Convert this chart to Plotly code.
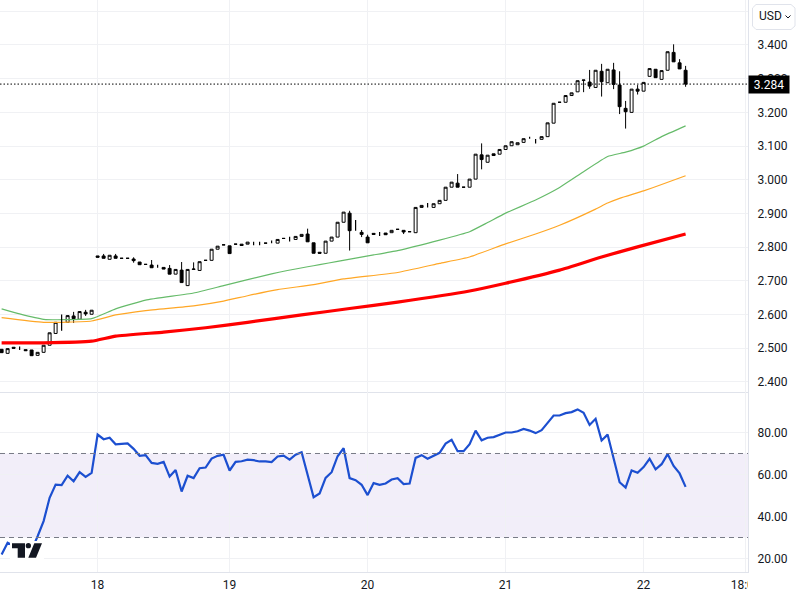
import plotly.graph_objects as go

# hourly bars, None open/close = bar that only shows a wick
bar_open = [2.497,2.485,2.503,None,2.496,2.495,2.479,2.488,2.509,2.544,None,2.577,2.596,2.586,2.607,2.601,
    2.774,2.774,2.764,2.774,2.767,2.767,2.765,2.756,2.749,2.747,None,2.740,2.737,2.720,2.732,2.686,2.734,2.731,2.761,2.761,2.794,2.807,
    2.804,2.809,2.809,2.809,None,None,2.812,None,2.812,2.826,None,2.823,2.832,2.839,2.813,2.785,2.782,2.818,2.830,2.874,2.901,None,2.844,
    2.830,2.841,None,2.842,2.843,2.853,2.850,2.846,2.843,2.918,None,2.918,2.929,2.939,2.978,2.990,2.978,2.978,3.002,3.074,3.052,3.077,3.076,
    3.090,3.101,3.104,3.111,None,None,3.120,3.128,3.168,3.230,3.230,3.250,3.261,3.295,3.290,3.274,3.322,3.288,3.326,3.281,3.212,3.200,3.269,
    3.263,3.307,3.328,3.298,3.325,3.378,3.347,3.325]
bar_high = [2.497,2.499,2.503,2.505,2.496,2.495,2.488,2.509,2.546,2.577,2.600,2.597,2.608,2.609,2.614,2.613,
    2.774,2.780,2.776,2.780,2.767,2.767,2.770,2.756,2.749,2.762,2.748,2.740,2.747,2.734,2.756,2.734,2.755,2.757,2.761,2.794,2.803,2.807,
    2.804,2.809,2.809,2.815,2.816,2.816,2.812,2.820,2.823,2.826,2.831,2.832,2.838,2.855,2.813,2.785,2.818,2.830,2.874,2.904,2.908,2.881,2.851,
    2.837,2.841,2.845,2.842,2.850,2.853,2.850,2.846,2.918,2.924,2.931,2.929,2.939,2.978,2.993,3.017,2.978,3.002,3.076,3.108,3.073,3.077,3.090,
    3.101,3.113,3.110,3.122,3.128,3.121,3.128,3.169,3.227,3.230,3.250,3.258,3.294,3.296,3.326,3.325,3.344,3.328,3.347,3.322,3.234,3.269,3.281,
    3.289,3.330,3.328,3.324,3.380,3.402,3.358,3.338]
bar_low = [2.487,2.485,2.500,2.495,2.493,2.478,2.479,2.488,2.509,2.544,2.552,2.577,2.575,2.586,2.596,2.601,
    2.770,2.767,2.764,2.767,2.767,2.767,2.754,2.748,2.749,2.739,2.739,2.735,2.720,2.720,2.695,2.686,2.734,2.731,2.761,2.761,2.794,2.807,
    2.781,2.809,2.805,2.809,2.806,2.806,2.812,2.812,2.812,2.826,2.817,2.823,2.832,2.816,2.782,2.782,2.782,2.818,2.830,2.874,2.790,2.849,2.830,
    2.813,2.838,2.833,2.837,2.843,2.853,2.839,2.846,2.843,2.918,2.918,2.918,2.929,2.939,2.978,2.978,2.978,2.978,3.002,3.031,3.052,3.072,3.076,
    3.090,3.101,3.104,3.111,3.122,3.108,3.120,3.128,3.168,3.230,3.230,3.250,3.261,3.260,3.270,3.274,3.247,3.288,3.269,3.195,3.152,3.200,3.253,
    3.263,3.307,3.303,3.298,3.325,3.350,3.329,3.276]
bar_close = [2.487,2.499,2.500,None,2.493,2.478,2.488,2.509,2.546,2.577,None,2.597,2.588,2.609,2.602,2.613,
    2.770,2.767,2.776,2.767,2.767,2.767,2.760,2.748,2.749,2.739,None,2.735,2.720,2.734,2.695,2.734,2.735,2.757,2.761,2.794,2.803,2.807,
    2.781,2.809,2.805,2.815,None,None,2.812,None,2.823,2.826,None,2.832,2.838,2.816,2.782,2.782,2.818,2.830,2.874,2.904,2.849,None,2.838,
    2.813,2.838,None,2.837,2.850,2.853,2.845,2.846,2.918,2.924,None,2.929,2.939,2.978,2.993,2.978,2.978,3.002,3.076,3.060,3.073,3.072,3.090,
    3.101,3.113,3.110,3.122,None,None,3.128,3.169,3.227,3.230,3.250,3.258,3.294,3.296,3.278,3.325,3.291,3.328,3.283,3.217,3.202,3.269,3.263,
    3.289,3.330,3.303,3.324,3.380,3.350,3.329,3.284]

# moving averages, read at the bends
green_idx = [0,3,7,11,15,19,24,32,37,45,51,53,56,62,66,73,78,81,84,89,93,97,101,104,107,110,114]
green_val = [2.617,2.602,2.586,2.585,2.588,2.617,2.643,2.664,2.686,2.721,2.742,2.748,2.758,2.777,2.790,2.821,2.846,2.873,2.901,2.940,2.977,3.024,3.069,3.082,3.100,3.128,3.160]
orange_idx = [0,7,15,19,24,32,37,41,46,52,57,66,73,78,84,89,93,99,101,103,107,110,114]
orange_val = [2.591,2.577,2.581,2.599,2.612,2.626,2.640,2.656,2.674,2.689,2.706,2.725,2.752,2.771,2.810,2.839,2.865,2.913,2.931,2.945,2.967,2.986,3.012]
red_idx = [0,7,15,19,27,34,41,50,58,66,78,84,93,100,106,114]
red_val = [2.516,2.516,2.521,2.536,2.548,2.561,2.577,2.599,2.618,2.637,2.670,2.693,2.732,2.771,2.801,2.839]

rsi = [21.9,27.5,26,24,25,24,30.6,37.8,48.9,55.2,54.9,59.4,56.8,61.1,58.9,60.8,79.0,76.8,77.5,74.4,74.6,74.8,72.2,68.9,69.2,65.5,65.1,66.0,59.0,62.1,
    51.9,59.4,58.3,63.0,63.3,67.6,68.9,69.4,61.9,66.0,66.3,67.1,66.8,66.2,66.2,65.9,68.6,69.0,67.1,69.4,70.6,60.0,49.2,51.0,58.4,61.1,68.7,72.5,58.3,57.3,
    55.1,50.2,55.9,55.1,55.7,57.6,58.2,55.4,55.7,67.9,69.2,67.5,69.0,70.3,74.7,76.5,71.1,71.1,74.4,80.9,76.3,77.5,77.8,79.0,80.0,80.0,80.6,81.7,80.9,79.7,
    81.1,84.6,88.1,88.1,89.2,89.7,91.0,89.4,83.6,86.5,76.2,79.0,67.9,56.3,53.8,61.9,60.8,63.5,67.5,62.5,64.9,69.7,64.1,60.5,54.1]

day_idx = [16,38,61,84,107,124]
day_labels = ['18','19','20','21','22','18:00']
price_ticks = [2.4,2.5,2.6,2.7,2.8,2.9,3.0,3.1,3.2,3.3,3.4,3.5]
price_labels = ['2.400','2.500','2.600','2.700','2.800','2.900','3.000','3.100','3.200','3.300','3.400','']
rsi_ticks = [20,40,60,80]
last_price = 3.284

W, H = 800, 600
PANE_R = 748
GRID = '#f0f1f4'
BORDER = '#e0e3eb'
FONT = 'Roboto'
bars = list(range(len(bar_open)))

def px(x, y):
    return f'{x / W:.5f},{1 - y / H:.5f}'

def path(points, close=True):
    return 'M' + ' L'.join(px(x, y) for x, y in points) + (' Z' if close else '')

fig = go.Figure()

for idx, val, color, width in [(red_idx, red_val, '#ff0000', 3.2),
                               (orange_idx, orange_val, '#ffa726', 1.2),
                               (green_idx, green_val, '#66bb6a', 1.2)]:
    fig.add_trace(go.Scatter(x=idx, y=val, mode='lines', line=dict(color=color, width=width, shape='spline', smoothing=0.4), showlegend=False, hoverinfo='skip'))

# wick only bars
wick_x, wick_y = [], []
for i in bars:
    if bar_open[i] is None:
        wick_x += [i, i, None]
        wick_y += [bar_low[i], bar_high[i], None]
fig.add_trace(go.Scatter(x=wick_x, y=wick_y, mode='lines', line=dict(color='black', width=1.2), showlegend=False, hoverinfo='skip'))

fig.add_trace(go.Candlestick(x=bars, open=bar_open, high=bar_high, low=bar_low, close=bar_close, showlegend=False,
    whiskerwidth=0,
    increasing=dict(line=dict(color='black', width=1), fillcolor='white'),
    decreasing=dict(line=dict(color='black', width=1), fillcolor='black')))

fig.add_trace(go.Scatter(x=bars, y=rsi, xaxis='x2', yaxis='y2', mode='lines', line=dict(color='#1c4fd0', width=2.2), showlegend=False))

shapes = [
    # RSI band
    dict(type='rect', xref='paper', yref='y2', x0=0, x1=PANE_R / W, y0=30, y1=70, fillcolor='rgba(126,87,194,0.1)', line_width=0, layer='below'),
    dict(type='line', xref='paper', yref='y2', x0=0, x1=PANE_R / W, y0=70, y1=70, line=dict(color='#787b86', width=1, dash='5px,4px')),
    dict(type='line', xref='paper', yref='y2', x0=0, x1=PANE_R / W, y0=30, y1=30, line=dict(color='#787b86', width=1, dash='5px,4px')),
    # last price line
    dict(type='line', xref='paper', yref='y', x0=0, x1=PANE_R / W, y0=last_price, y1=last_price, line=dict(color='black', width=1, dash='1.5px,2px')),
    # cuts the last time label off at the pane edge
    dict(type='rect', xref='paper', yref='paper', x0=PANE_R / W, x1=1, y0=0, y1=1 - 573 / H, fillcolor='white', line_width=0, layer='above'),
    # USD button
    dict(type='path', xref='paper', yref='paper', layer='above', fillcolor='white', line=dict(color=BORDER, width=1),
         path=path([(756, 4.5), (791, 4.5), (795, 8), (795, 26), (791, 29.5), (756, 29.5), (752.5, 26), (752.5, 8)])),
    dict(type='path', xref='paper', yref='paper', layer='above', line=dict(color='#131722', width=1),
         path=path([(785.5, 15.5), (788, 18), (790.5, 15.5)], close=False)),
    # logo on its white backing
    dict(type='rect', xref='paper', yref='paper', layer='above', fillcolor='white', line_width=0,
         x0=10 / W, x1=44 / W, y0=1 - 560 / H, y1=1 - 541 / H),
    dict(type='path', xref='paper', yref='paper', layer='above', fillcolor='#131722', line_width=0,
         path=path([(12, 543.3), (25, 543.3), (25, 557.7), (17.7, 557.7), (17.7, 548.3), (12, 548.3)])),
    dict(type='circle', xref='paper', yref='paper', layer='above', fillcolor='#131722', line_width=0,
         x0=25.7 / W, x1=31 / W, y0=1 - 548.3 / H, y1=1 - 543 / H),
    dict(type='path', xref='paper', yref='paper', layer='above', fillcolor='#131722', line_width=0,
         path=path([(34.3, 543.3), (42, 543.3), (36, 557.7), (28.3, 557.7)])),
]

annotations = [
    dict(xref='paper', yref='y', x=769 / W, xanchor='center', y=last_price, text='3.284', showarrow=False, bgcolor='black', width=40, height=17,
         borderpad=0, font=dict(color='white', size=12, family=FONT)),
    dict(xref='paper', yref='paper', x=757 / W, y=1 - 16.5 / H, xanchor='left', yanchor='middle', text='USD', showarrow=False,
         font=dict(color='#131722', size=12, family=FONT)),
]

x_style = dict(tickmode='array', tickvals=day_idx, range=[-0.27, 124.4], showgrid=True, gridcolor=GRID, gridwidth=1, zeroline=False, automargin=False)
y_style = dict(side='right', showgrid=True, gridcolor=GRID, gridwidth=1, zeroline=False, showline=True, linecolor=BORDER, linewidth=1, automargin=False,
               ticks='', ticklabelstandoff=6, tickfont=dict(size=12, color='#131722', family=FONT))

fig.update_layout(
    width=W, height=H, margin=dict(l=0, r=0, t=0, b=0), paper_bgcolor='white', plot_bgcolor='white',
    boxgap=0.3, hovermode=False, shapes=shapes, annotations=annotations,
    xaxis=dict(domain=[0, PANE_R / W], anchor='y', showticklabels=False, rangeslider=dict(visible=False), showline=True, linecolor=BORDER, linewidth=1, **x_style),
    yaxis=dict(domain=[1 - 392 / H, 1], anchor='x', range=[2.3703, 3.5335], tickmode='array', tickvals=price_ticks, ticktext=price_labels, **y_style),
    xaxis2=dict(domain=[0, PANE_R / W], anchor='y2', ticktext=day_labels, ticks='', ticklabelstandoff=2, showline=True, linecolor=BORDER, linewidth=1,
                tickfont=dict(size=12, color='#131722', family=FONT), **x_style),
    yaxis2=dict(domain=[1 - 571.5 / H, 1 - 392 / H], anchor='x2', range=[13.81, 99.28], tickmode='array', tickvals=rsi_ticks, tickformat='.2f', **y_style),
)

fig.write_html("out.html", config=dict(displayModeBar=False), post_script="document.body.style.margin='0';")
